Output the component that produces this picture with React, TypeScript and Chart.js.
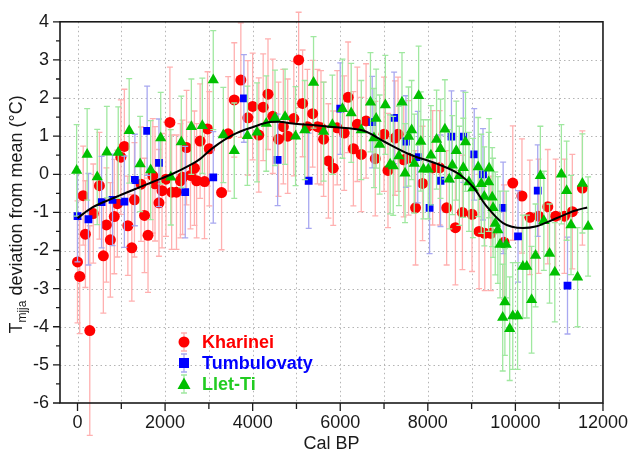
import React, { useEffect, useRef } from 'react';
import { Chart, registerables } from 'chart.js';
Chart.register(...registerables);

// ---- data ----
const kharineiAge = [0, 50, 130, 180, 280, 360, 500, 590, 660, 750, 840, 910, 990, 1070, 1150, 1240, 1300, 1450, 1530, 1610, 1720, 1770, 1860, 1930, 2020, 2110, 2150, 2260, 2350, 2400, 2490, 2580, 2670, 2720, 2800, 2900, 2970, 3010, 3290, 3440, 3580, 3730, 3890, 4000, 4140, 4240, 4350, 4460, 4590, 4700, 4800, 4940, 5050, 5140, 5250, 5370, 5480, 5560, 5620, 5730, 5840, 5930, 6090, 6180, 6300, 6390, 6480, 6590, 6800, 7000, 7090, 7250, 7320, 7450, 7560, 7720, 7880, 8110, 8270, 8430, 8630, 8790, 9010, 9170, 9300, 9440, 9740, 9940, 10150, 10330, 10530, 10740, 10920, 11120, 11300, 11530];
const kharineiT = [-2.3, -2.68, -0.56, -1.57, -4.1, -1.03, -0.3, -2.14, -1.33, -1.72, -1.11, -0.77, 0.45, 0.73, -1.35, -1.93, -0.67, -0.26, -1.08, -1.6, -0.04, -0.25, -0.75, -0.43, -0.13, 1.36, -0.47, -0.47, -0.17, -0.08, 0.7, -0.03, 0.16, -0.17, 0.87, -0.19, 1.19, 0.67, -0.48, 1.06, 1.95, 2.47, 1.48, 1.78, 1.03, 1.76, 2.1, 1.52, 0.92, 1.25, 1.0, 1.46, 3.0, 1.86, 1.25, 1.59, 1.25, 1.22, 0.92, 0.35, 0.16, 1.22, 1.08, 2.02, 0.67, 1.31, 0.52, 1.4, 0.41, 1.05, 0.1, 0.95, 1.05, 0.38, 0.43, -0.88, -0.24, 0.17, 0.17, -0.88, -1.4, -1.0, -1.05, -1.5, -1.55, -1.55, -1.78, -0.23, -0.57, -1.13, -1.1, -0.85, -1.1, -1.1, -0.98, -0.36];
const kharineiErr = [1.6, 1.5, 1.3, 1.4, 2.75, 1.3, 1.4, 1.5, 1.5, 1.5, 1.5, 1.4, 1.5, 1.5, 1.3, 1.4, 1.5, 1.5, 1.5, 1.5, 1.5, 1.5, 1.4, 1.5, 1.5, 1.45, 1.5, 1.5, 1.5, 1.5, 1.5, 1.4, 1.5, 1.5, 1.5, 1.5, 1.5, 1.5, 1.5, 1.5, 1.5, 1.5, 1.5, 1.4, 1.5, 1.4, 1.45, 1.5, 1.5, 1.5, 1.5, 1.5, 1.25, 1.4, 1.5, 1.4, 1.5, 1.5, 1.5, 1.5, 1.5, 1.5, 1.5, 1.45, 1.5, 1.5, 1.5, 1.5, 1.5, 1.5, 1.5, 1.5, 1.5, 1.5, 1.5, 1.5, 1.5, 1.5, 1.5, 1.5, 1.5, 1.5, 1.5, 1.5, 1.5, 1.5, 1.5, 1.5, 1.5, 1.5, 1.5, 1.5, 1.5, 1.5, 1.5, 1.5];

const tumbulovatyAge = [0, 250, 550, 800, 1070, 1310, 1590, 1860, 2460, 3100, 3800, 4570, 5280, 6000, 6730, 7230, 7500, 7770, 8040, 8290, 8540, 8810, 9060, 9260, 9720, 10060, 10510, 11190];
const tumbulovatyT = [-1.1, -1.18, -0.73, -0.67, -0.72, -0.15, 1.14, 0.3, -0.47, -0.08, 1.99, 0.38, -0.17, 1.72, 1.37, 1.48, 0.86, 0.45, -0.88, -0.17, 0.99, 0.99, 0.52, 0.0, -0.88, -1.63, -0.43, -2.92];
const tumbulovatyErr = [1.2, 1.2, 1.2, 1.2, 1.2, 1.2, 1.17, 1.15, 1.2, 1.2, 1.15, 1.2, 1.25, 1.2, 1.2, 1.2, 1.2, 1.2, 1.2, 1.2, 1.2, 1.2, 1.2, 1.2, 1.2, 1.2, 1.2, 1.27];

const lletTiAge = [-20, 220, 450, 670, 930, 1180, 1430, 1670, 1900, 2130, 2370, 2600, 2850, 3100, 3330, 3580, 3880, 4100, 4310, 4510, 4740, 4980, 5190, 5390, 5620, 5820, 6050, 6250, 6480, 6690, 6770, 6820, 6900, 7030, 7140, 7210, 7340, 7410, 7480, 7560, 7630, 7690, 7790, 7840, 7900, 8010, 8070, 8200, 8290, 8390, 8490, 8560, 8650, 8720, 8810, 8860, 8940, 9030, 9150, 9220, 9290, 9390, 9400, 9470, 9490, 9540, 9600, 9650, 9710, 9760, 9790, 9870, 9940, 10050, 10170, 10260, 10370, 10460, 10570, 10650, 10780, 10900, 11050, 11170, 11270, 11420, 11530, 11660];
const lletTiT = [0.1, 0.52, -0.07, 0.58, 0.57, 1.14, 0.27, 0.11, 0.95, -0.08, 0.85, 1.25, 1.27, 2.47, 1.03, 0.62, 1.01, 1.1, 1.33, 1.48, 1.51, 1.0, 1.16, 2.41, 1.12, 1.3, 1.72, 1.61, 1.16, 1.89, 0.95, 1.46, 0.78, 1.82, 0.26, 0.22, 0.48, 1.89, 0.03, 0.99, 1.16, 0.28, 2.06, 0.86, 0.13, 0.13, 0.5, 0.91, 0.67, 1.18, -0.13, 0.24, 0.62, -0.04, 0.17, 0.85, -0.2, -0.36, 0.19, -0.25, -0.58, -0.2, 0.16, -0.6, -0.88, -1.29, -1.46, -1.84, -3.76, -3.35, -1.84, -4.05, -3.72, -3.72, -2.42, -2.42, -3.29, -2.13, -0.04, -1.22, -2.08, -2.57, 0.0, -0.43, -1.33, -2.7, -0.24, -1.37];
const lletTiErr = [1.2, 1.2, 1.25, 1.2, 1.2, 1.37, 1.25, 1.3, 1.2, 1.25, 1.2, 1.25, 1.25, 1.3, 1.25, 1.25, 1.3, 1.3, 1.25, 1.25, 1.25, 1.3, 1.3, 1.2, 1.3, 1.3, 1.3, 1.3, 1.3, 1.3, 1.3, 1.3, 1.3, 1.3, 1.3, 1.3, 1.3, 1.3, 1.3, 1.3, 1.3, 1.3, 1.3, 1.3, 1.3, 1.3, 1.3, 1.3, 1.3, 1.3, 1.3, 1.3, 1.3, 1.3, 1.3, 1.3, 1.3, 1.3, 1.3, 1.3, 1.3, 1.3, 1.3, 1.3, 1.3, 1.35, 1.4, 1.4, 1.4, 1.4, 1.4, 1.36, 1.4, 1.4, 1.35, 1.35, 1.4, 1.35, 1.3, 1.3, 1.3, 1.3, 1.3, 1.3, 1.3, 1.3, 1.3, 1.3];

const curveAge = [0, 340, 790, 1250, 1700, 2150, 2600, 2760, 3100, 3560, 4010, 4390, 4600, 4910, 5370, 5820, 6540, 7000, 7590, 8200, 8720, 9040, 9330, 9720, 10170, 10460, 10920, 11370, 11640];
const curveT = [-1.15, -0.87, -0.64, -0.42, -0.21, 0.0, 0.26, 0.37, 0.7, 1.04, 1.24, 1.37, 1.38, 1.33, 1.29, 1.24, 1.14, 0.86, 0.52, 0.28, 0.0, -0.34, -0.82, -1.28, -1.41, -1.37, -1.16, -0.95, -0.87];

const xTickValues = [0, 1000, 2000, 3000, 4000, 5000, 6000, 7000, 8000, 9000, 10000, 11000, 12000];
const xLabelValues = [0, 2000, 4000, 6000, 8000, 10000, 12000];
const yTickValues = [-6, -5, -4, -3, -2, -1, 0, 1, 2, 3, 4];
const yMinorValues = [-5.5, -4.5, -3.5, -2.5, -1.5, -0.5, 0.5, 1.5, 2.5, 3.5];

const seriesNames = ['Kharinei', 'Tumbulovaty', 'Llet-Ti'];
const xTitle = 'Cal BP';

const FONT = '"Liberation Sans", Arial, sans-serif';

const pts = (xs: number[], ys: number[]) => xs.map((x, i) => ({ x, y: ys[i] }));

const errorBarPlugin = {
  id: 'errorBars',
  beforeDatasetDraw(chart: any, args: any) {
    const ds = chart.data.datasets[args.index];
    if (!ds.errors) return;
    const ctx = chart.ctx;
    const ys = chart.scales.y;
    ctx.save();
    ctx.strokeStyle = ds.errorColor;
    ctx.lineWidth = 1.3;
    args.meta.data.forEach((el: any, i: number) => {
      const v = ds.data[i].y;
      const e = ds.errors[i];
      const x = el.x;
      const y1 = ys.getPixelForValue(v + e);
      const y2 = ys.getPixelForValue(v - e);
      ctx.beginPath();
      ctx.moveTo(x, y1); ctx.lineTo(x, y2);
      ctx.moveTo(x - 3, y1); ctx.lineTo(x + 3, y1);
      ctx.moveTo(x - 3, y2); ctx.lineTo(x + 3, y2);
      ctx.stroke();
    });
    ctx.restore();
  },
};

const framePlugin = {
  id: 'frameAndGrid',
  beforeDatasetsDraw(chart: any) {
    const { ctx, chartArea: a, scales } = chart;
    ctx.save();
    ctx.strokeStyle = '#b4b4b4';
    ctx.lineWidth = 1;
    ctx.setLineDash([1.5, 3]);
    xTickValues.forEach((v) => {
      const x = Math.round(scales.x.getPixelForValue(v)) + 0.5;
      if (x <= a.left + 1 || x >= a.right - 1) return;
      ctx.beginPath(); ctx.moveTo(x, a.top); ctx.lineTo(x, a.bottom); ctx.stroke();
    });
    yTickValues.forEach((v) => {
      const y = Math.round(scales.y.getPixelForValue(v)) + 0.5;
      if (y <= a.top + 1 || y >= a.bottom - 1) return;
      ctx.beginPath(); ctx.moveTo(a.left, y); ctx.lineTo(a.right, y); ctx.stroke();
    });
    ctx.restore();
  },
  afterDraw(chart: any) {
    const { ctx, chartArea: a, scales } = chart;
    ctx.save();
    // frame
    ctx.strokeStyle = '#1a1a1a';
    ctx.lineWidth = 1.6;
    ctx.strokeRect(a.left, a.top, a.right - a.left, a.bottom - a.top);
    // ticks
    ctx.lineWidth = 1.3;
    ctx.beginPath();
    xTickValues.forEach((v) => {
      const x = scales.x.getPixelForValue(v);
      const len = v % 2000 === 0 ? 8 : 6;
      ctx.moveTo(x, a.bottom); ctx.lineTo(x, a.bottom + len);
    });
    yTickValues.forEach((v) => {
      const y = scales.y.getPixelForValue(v);
      ctx.moveTo(a.left, y); ctx.lineTo(a.left - 7, y);
    });
    yMinorValues.forEach((v) => {
      const y = scales.y.getPixelForValue(v);
      ctx.moveTo(a.left, y); ctx.lineTo(a.left - 4, y);
    });
    ctx.stroke();

    // axis titles
    ctx.fillStyle = '#1a1a1a';
    ctx.font = `18px ${FONT}`;
    ctx.textAlign = 'center';
    ctx.textBaseline = 'alphabetic';
    ctx.fillText(xTitle, (a.left + a.right) / 2, 449);

    // y title with subscript
    const main = 'T';
    const sub = 'mjja';
    const rest = ' deviation from mean (°C)';
    ctx.font = `18px ${FONT}`;
    const wT = ctx.measureText(main).width;
    const wR = ctx.measureText(rest).width;
    ctx.font = `12px ${FONT}`;
    const wS = ctx.measureText(sub).width;
    const total = wT + wS + wR;
    ctx.translate(22, (a.top + a.bottom) / 2 + 2);
    ctx.rotate(-Math.PI / 2);
    ctx.textAlign = 'left';
    let x0 = -total / 2;
    ctx.font = `18px ${FONT}`;
    ctx.fillText(main, x0, 0);
    ctx.font = `12px ${FONT}`;
    ctx.fillText(sub, x0 + wT, 4);
    ctx.font = `18px ${FONT}`;
    ctx.fillText(rest, x0 + wT + wS, 0);
    ctx.restore();

    // legend
    const items = [
      { name: seriesNames[0], color: '#ff0000', bar: '#ffb0b0', shape: 'circle', y: 342 },
      { name: seriesNames[1], color: '#0000ff', bar: '#a8a8f0', shape: 'rect', y: 363 },
      { name: seriesNames[2], color: '#00c000', text: '#22cc22', bar: '#a0e8a0', shape: 'triangle', y: 384 },
    ];
    ctx.save();
    items.forEach((it: any) => {
      const cx = 184;
      ctx.strokeStyle = it.bar;
      ctx.lineWidth = 1.3;
      ctx.beginPath();
      ctx.moveTo(cx, it.y - 9); ctx.lineTo(cx, it.y + 9);
      ctx.moveTo(cx - 3, it.y - 9); ctx.lineTo(cx + 3, it.y - 9);
      ctx.moveTo(cx - 3, it.y + 9); ctx.lineTo(cx + 3, it.y + 9);
      ctx.stroke();
      ctx.fillStyle = it.color;
      ctx.beginPath();
      if (it.shape === 'circle') {
        ctx.arc(cx, it.y, 5.5, 0, Math.PI * 2);
      } else if (it.shape === 'rect') {
        ctx.rect(cx - 5, it.y - 5, 10, 10);
      } else {
        ctx.moveTo(cx, it.y - 6.5);
        ctx.lineTo(cx + 6.5, it.y + 5);
        ctx.lineTo(cx - 6.5, it.y + 5);
        ctx.closePath();
      }
      ctx.fill();
      ctx.fillStyle = it.text || it.color;
      ctx.font = `bold 18px ${FONT}`;
      ctx.textAlign = 'left';
      ctx.textBaseline = 'middle';
      ctx.fillText(it.name, 202, it.y + 1);
    });
    ctx.restore();
  },
};

export default function App() {
  const ref = useRef<HTMLCanvasElement | null>(null);
  useEffect(() => {
    if (!ref.current) return;
    const chart = new Chart(ref.current, {
      type: 'scatter',
      data: {
        datasets: [
          {
            label: seriesNames[0],
            data: pts(kharineiAge, kharineiT),
            errors: kharineiErr,
            errorColor: '#ffb0b0',
            backgroundColor: '#ff0000',
            borderColor: '#ff0000',
            pointStyle: 'circle',
            pointRadius: 5.5,
            borderWidth: 0,
            order: 3,
          } as any,
          {
            label: seriesNames[1],
            data: pts(tumbulovatyAge, tumbulovatyT),
            errors: tumbulovatyErr,
            errorColor: '#a8a8f0',
            backgroundColor: '#0000ff',
            borderColor: '#0000ff',
            pointStyle: 'rect',
            pointRadius: 5.5,
            borderWidth: 0,
            order: 2,
          } as any,
          {
            label: seriesNames[2],
            data: pts(lletTiAge, lletTiT),
            errors: lletTiErr,
            errorColor: '#a0e8a0',
            backgroundColor: '#00c000',
            borderColor: '#00c000',
            pointStyle: 'triangle',
            pointRadius: 6.5,
            borderWidth: 0,
            order: 1,
          } as any,
          {
            type: 'line',
            label: 'smooth',
            data: pts(curveAge, curveT),
            borderColor: '#000000',
            borderWidth: 2,
            pointRadius: 0,
            fill: false,
            cubicInterpolationMode: 'monotone',
            order: 0,
          } as any,
        ],
      },
      options: {
        animation: false,
        responsive: false,
        maintainAspectRatio: false,
        layout: { padding: { top: 15, right: 29, left: 0, bottom: 0 } },
        plugins: { legend: { display: false }, tooltip: { enabled: false } },
        scales: {
          x: {
            type: 'linear',
            min: -400,
            max: 12000,
            grid: { display: false, drawTicks: false },
            border: { display: false },
            afterBuildTicks: (s: any) => { s.ticks = xLabelValues.map((v) => ({ value: v })); },
            afterFit: (s: any) => { s.height = 52; },
            ticks: {
              color: '#1a1a1a',
              font: { family: FONT, size: 18 },
              padding: 9,
              maxRotation: 0,
              autoSkip: false,
              callback: (v: any) => String(v),
            },
          },
          y: {
            type: 'linear',
            min: -6,
            max: 4,
            grid: { display: false, drawTicks: false },
            border: { display: false },
            afterBuildTicks: (s: any) => { s.ticks = yTickValues.map((v) => ({ value: v })); },
            afterFit: (s: any) => { s.width = 60; },
            ticks: {
              color: '#1a1a1a',
              font: { family: FONT, size: 18 },
              padding: 11,
              autoSkip: false,
              callback: (v: any) => String(v),
            },
          },
        },
      },
      plugins: [errorBarPlugin, framePlugin],
    } as any);
    return () => chart.destroy();
  }, []);
  return (
    <div style={{ position: 'absolute', left: 0, top: 0, width: 637, height: 455, background: '#fff' }}>
      <canvas ref={ref} width={637} height={455} />
    </div>
  );
}
